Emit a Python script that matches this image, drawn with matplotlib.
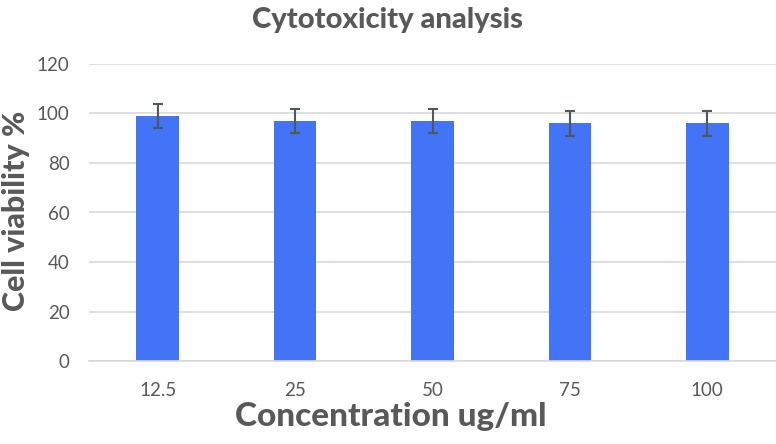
import numpy as np
import matplotlib.pyplot as plt

# data
concentrations = ['12.5', '25', '50', '75', '100']
viability = [99, 97, 97, 96, 96]
errors = [5, 5, 5, 5, 5]

text_color = '#595959'
bar_color = '#4374F7'
grid_color = '#D9D9D9'

plt.rcParams['font.family'] = ['Lato', 'DejaVu Sans']

fig = plt.figure(figsize=(7.76, 4.44), dpi=100)
ax = fig.add_axes([89 / 776, 1 - 361 / 444, 687 / 776, (361 - 64) / 444])

x = np.arange(len(concentrations))
ax.bar(x, viability, width=0.31, color=bar_color, zorder=2)
ax.errorbar(x, viability, yerr=errors, fmt='none', ecolor='#4F5858',
            elinewidth=1.5, capsize=3.8, capthick=1.5, zorder=3)

ax.set_xlim(-0.5, len(concentrations) - 0.5)
ax.set_ylim(0, 120)
ax.set_yticks(range(0, 121, 20))
ax.set_xticks(x)
ax.set_xticklabels(concentrations)
ax.tick_params(axis='both', length=0, labelsize=13.5, colors=text_color)
ax.tick_params(axis='x', pad=15)
ax.tick_params(axis='y', pad=14)
ax.grid(axis='y', color=grid_color, linewidth=1.2, zorder=0)
for side in ['top', 'right', 'left']:
    ax.spines[side].set_visible(False)
ax.spines['bottom'].set_color(grid_color)
ax.spines['bottom'].set_linewidth(1.2)

label_font = dict(fontweight='black', color=text_color)
fig.text(391 / 776, 1 - 416 / 444, 'Concentration ug/ml', ha='center', va='center',
         fontsize=24, **label_font)
fig.text(16 / 776, 1 - 211 / 444, 'Cell viability %', ha='center', va='center',
         rotation=90, fontsize=22, **label_font)
fig.text(0.5, 1 - 20 / 444, 'Cytotoxicity analysis', ha='center', va='center',
         fontsize=21, **label_font)

fig.savefig('out.png', dpi=100)
